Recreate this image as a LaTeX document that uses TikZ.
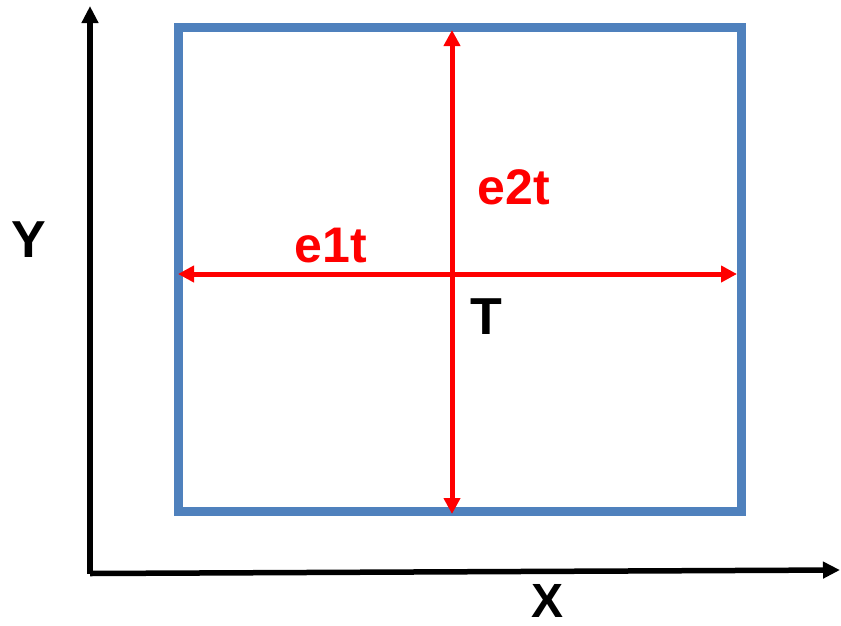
\documentclass[tikz,border=0pt]{standalone}
\usepackage{fontspec}
\setmainfont{Liberation Sans}
\usetikzlibrary{arrows.meta}
\definecolor{frameblue}{RGB}{79,129,189}

\begin{document}
\begin{tikzpicture}[
      x=1pt, y=-1pt,
      axis/.style={-{Triangle[length=17pt, width=16pt]}, line width=5.5pt},
      frame/.style={draw=frameblue, line width=9pt},
      span/.style={draw=red, {Triangle[length=16pt, width=16pt]}-{Triangle[length=16pt, width=16pt]}, line width=5pt},
      axlabel/.style={anchor=base, inner sep=0pt, font=\fontsize{52}{52}\selectfont\bfseries},
      elabel/.style={anchor=base, inner sep=0pt, text=red, font=\fontsize{50}{50}\selectfont\bfseries}
    ]
    \useasboundingbox (0,0) rectangle (841,625);

    % axes
    \coordinate (origin) at (90,573.5);
    \coordinate (ytop) at (90,6);
    \coordinate (xend) at (840,570);
    \draw[axis] (origin) -- (ytop);
    \draw[axis] (origin) -- (xend);
    \node[axlabel] (ylab) at (29,257) {Y};
    \node[axlabel, font=\fontsize{48}{48}\selectfont\bfseries] (xlab) at (548,617) {X};

    % element
    \draw[frame] (178,27.5) rectangle (741,511);
    \coordinate (eleft) at (178,274);
    \coordinate (eright) at (737,274);
    \coordinate (etop) at (452,30);
    \coordinate (ebot) at (452,514);
    \draw[span] (eleft) -- (eright);
    \draw[span] (ebot) -- (etop);

    \node[elabel] (e1) at (331,262) {e1t};
    \node[elabel] (e2) at (514,204) {e2t};
    \node[axlabel] (t) at (486,334) {T};
  \end{tikzpicture}
\end{document}
